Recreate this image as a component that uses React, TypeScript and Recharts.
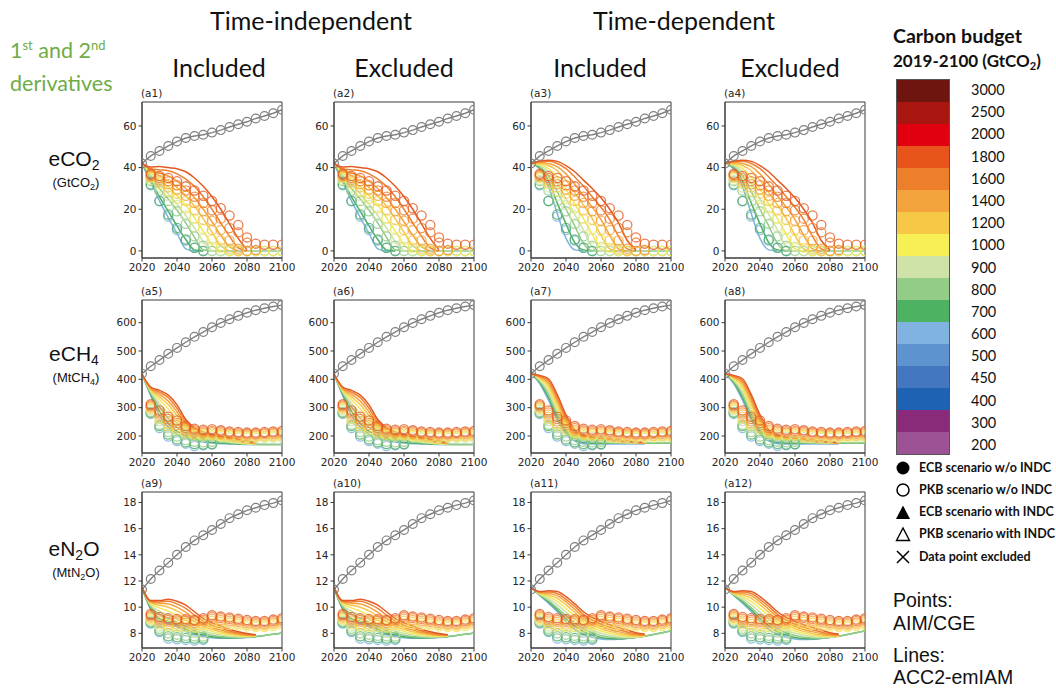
import React from "react";
import { ComposedChart, Line, XAxis, YAxis, ReferenceArea } from "recharts";

// years shared by every panel
const years = [2020, 2025, 2030, 2035, 2040, 2045, 2050, 2055, 2060, 2065, 2070, 2075, 2080, 2085, 2090, 2095, 2100];
const xTicks = [2020, 2040, 2060, 2080, 2100];

// carbon budgets that appear in the panels (GtCO2), high to low
const budgets = ["1800", "1600", "1400", "1200", "1000", "900", "800", "700", "600"];
const budgetColors = ["#e45a23", "#ee8030", "#f3a23f", "#f6c54c", "#f2e85a", "#cde2a8", "#92cb88", "#4daf61", "#7fb2df"];

// colour bar of the legend
const barLabels = ["3000", "2500", "2000", "1800", "1600", "1400", "1200", "1000", "900", "800", "700", "600", "500", "450", "400", "300", "200"];
const barColors = ["#6e1510", "#a8160f", "#e0000f", "#e8541c", "#ee7f2a", "#f3a33b", "#f7c845", "#f7ef56", "#cfe3a8", "#92cc86", "#4db363", "#80b3e0", "#5f93d0", "#4577c0", "#1e62b3", "#8a2a7a", "#9c5294"];

// ---- eCO2 (GtCO2) ----
const co2Base = [42, 45.6, 48, 50.4, 52.5, 54.2, 55.2, 55.8, 56.8, 58, 59.5, 60.8, 62, 63.6, 64.8, 66.1, 67.8];
const co2LinesTI = [
  [42, 40.3, 40.5, 40, 39.5, 38, 35, 31, 26, 20, 13, 6, 0.5],
  [42, 39.5, 39, 38.5, 37, 34.5, 31, 26, 20, 13.5, 7, 1.5, 0],
  [42, 39, 37.5, 36, 33.5, 30, 25.5, 20, 14, 7.5, 2, 0],
  [42, 38.5, 36, 33.5, 30.5, 26.5, 21.5, 15.5, 9, 2.5, 0],
  [42, 37.5, 34, 30.5, 26.5, 22, 16, 9.5, 3, 0],
  [42, 36.5, 32, 27.5, 22.5, 17, 11, 4.5, 0],
  [42, 35.5, 30, 25, 19.5, 13.5, 6.5, 0.5, 0, 0, 0, 0, 0, 0, 0, 0, 0],
  [42, 34, 26, 19, 12, 5.5, 0.5, 0],
  [42, 33, 24, 16, 8.5, 1, 0, 0],
];
const co2LinesTD = [
  [42, 43, 43.5, 43, 41, 38, 34, 30, 25.5, 20, 13.5, 5, 0.5],
  [42, 43, 43, 42, 39.5, 35.5, 31, 26, 21, 15, 7, 1, 0],
  [42, 42.5, 42, 40.5, 37, 32, 26.5, 21, 15, 7.5, 1, 0],
  [42, 42, 41, 38.5, 34, 28, 22, 15.5, 7.5, 1, 0],
  [42, 41.5, 39.5, 35.5, 29.5, 22.5, 15.5, 8, 1, 0],
  [42, 41, 38, 32.5, 25, 17.5, 10, 2, 0, 0],
  [42, 40.5, 36, 28.5, 20, 12, 3.5, 0, 0, 0, 0, 0, 0, 0, 0, 0, 0],
  [42, 40, 33.5, 23, 13, 4, 0.5, 0],
  [42, 39.5, 31, 18, 6, 0.5, 0],
];
const co2Points = [
  [null, 37, 36, 35, 33.5, 31, 29, 26.5, 24, 20.5, 17, 12.5, 6.5, 3.5, 3, 3, 3],
  [null, 36.5, 35, 33.5, 31.5, 29, 26, 23, 19.5, 15.5, 11, 9, 4, 0.5],
  [null, 36, 34, 32, 29.5, 26.5, 23, 19, 14.5, 10, 5, 1, 0],
  [null, 35.5, 33, 30.5, 27.5, 24, 19.5, 15, 10, 5, 1, 0],
  [null, 35, 32, 28.5, 25, 20.5, 15.5, 10.5, 5.5, 1.5, 0, 0, 0, 0, 0, 0, 0],
  [null, 34, 30.5, 26.5, 22, 17, 11.5, 6, 2, 0, 0, 0, 0, 0, 0, 0, 0],
  [null, 33.5, 29, 24, 19, 13, 7, 2.5, 0, 0, 0, 0, 0, 0, 0, 0, 0],
  [null, 32, 24, 17.5, 11, 5.5, 1.5, 0],
  [null, 31.5, 24, 16.5, 10, 5, 1.5, 0],
];

// ---- eCH4 (MtCH4) ----
const ch4Base = [420, 446, 468, 490, 511, 531, 550, 567, 584, 599, 612, 624, 635, 644, 651, 657, 662];
const ch4LinesTI = [
  [418, 373, 361, 344, 310, 258, 229, 214, 205, 199, 194, 188, 182, 178],
  [418, 370, 355, 335, 298, 250, 224, 210, 202, 196, 190, 185, 180, 176],
  [418, 367, 347, 323, 285, 243, 219, 206, 198, 192, 187, 182, 178, 175],
  [418, 364, 338, 310, 272, 236, 214, 202, 195, 189, 184, 180, 176, 173],
  [418, 360, 328, 296, 258, 228, 209, 198, 191, 186, 181, 177, 174, 172],
  [418, 356, 316, 280, 245, 219, 203, 193, 187, 182, 178, 175, 172, 171],
  [418, 352, 303, 263, 231, 210, 197, 188, 183, 179, 176, 174, 172, 171, 170, 170, 170],
  [418, 347, 287, 245, 216, 200, 190, 183, 178, 175, 173, 172, 171, 170, 170, 170, 170],
  [418, 342, 272, 232, 207, 193, 185, 179, 175, 173, 172, 171, 170, 170],
];
const ch4LinesTD = [
  [420, 414, 402, 346, 275, 222, 203, 196, 192, 189, 186, 183, 180, 177],
  [420, 411, 395, 336, 265, 217, 200, 194, 190, 187, 184, 181, 178, 176],
  [420, 408, 387, 325, 256, 212, 197, 191, 188, 185, 182, 179, 177, 175],
  [420, 405, 378, 313, 247, 207, 194, 189, 186, 183, 180, 178, 176, 174],
  [420, 401, 368, 300, 238, 202, 191, 186, 183, 181, 179, 177, 175, 174],
  [420, 397, 358, 288, 229, 197, 187, 183, 181, 179, 177, 176, 175, 174],
  [420, 393, 347, 277, 222, 191, 182, 179, 177, 176, 175, 175, 175, 175, 175, 175, 175],
  [420, 389, 336, 265, 215, 186, 177, 175, 174, 174, 174, 174, 174, 174, 174, 174, 174],
  [420, 385, 326, 255, 208, 182, 173, 172, 172, 172, 172, 172, 172, 172],
];
const ch4Points = [
  [null, 312, 290, 268, 255, 235, 226, 222, 224, 220, 216, 214, 212, 212, 214, 216, 218],
  [null, 308, 283, 260, 246, 228, 220, 217, 218, 215, 212, 210, 208, 208, 210, 212, 213],
  [null, 304, 276, 252, 238, 222, 214, 212, 213, 210, 207, 205, 204, 204, 206, 207, 208],
  [null, 300, 268, 244, 230, 216, 209, 207, 208, 205, 203, 201, 200, 200, 201, 202, 203],
  [null, 296, 260, 236, 222, 210, 204, 202, 203, 201, 199, 197, 196, 196, 197, 198, 199],
  [null, 292, 252, 228, 214, 203, 198, 197, 198, 196, 195, 194, 193, 193, 194, 195, 195],
  [null, 285, 240, 214, 198, 186, 180, 178, 180],
  [null, 282, 235, 205, 188, 178, 172, 170, 172],
  [null, 278, 228, 198, 182, 173, 165, 167, 170],
];

// ---- eN2O (MtN2O) ----
const n2oBase = [11.35, 12.15, 12.8, 13.4, 14.0, 14.6, 15.1, 15.5, 15.9, 16.35, 16.8, 17.1, 17.4, 17.6, 17.8, 17.95, 18.15];
const n2oLinesTI = [
  [11.5, 10.5, 10.5, 10.6, 10.45, 10.15, 9.65, 9.15, 8.8, 8.55, 8.3, 8.12, 7.98, 7.9],
  [11.5, 10.45, 10.4, 10.45, 10.25, 9.9, 9.4, 8.95, 8.62, 8.4, 8.18, 8.02, 7.92, 7.88],
  [11.5, 10.4, 10.3, 10.25, 10.0, 9.6, 9.15, 8.75, 8.45, 8.25, 8.07, 7.95, 7.87, 7.85],
  [11.5, 10.35, 10.15, 10.0, 9.72, 9.3, 8.9, 8.55, 8.3, 8.12, 7.98, 7.88, 7.83, 7.82],
  [11.5, 10.25, 9.95, 9.7, 9.4, 9.0, 8.65, 8.35, 8.15, 7.99, 7.88, 7.8, 7.78, 7.8],
  [11.5, 10.15, 9.7, 9.4, 9.1, 8.75, 8.42, 8.17, 8.0, 7.87, 7.79, 7.74, 7.74, 7.77],
  [11.5, 10.05, 9.45, 9.15, 8.85, 8.5, 8.22, 8.0, 7.86, 7.76, 7.71, 7.69, 7.71, 7.76, 7.84, 7.93, 8.02],
  [11.5, 9.9, 9.1, 8.9, 8.65, 8.3, 8.05, 7.86, 7.74, 7.67, 7.65, 7.66, 7.7, 7.76, 7.84, 7.93, 8.02],
  [11.5, 9.8, 8.95, 8.75, 8.5, 8.15, 7.92, 7.75, 7.66, 7.62, 7.62, 7.64, 7.68, 7.74],
];
const n2oLinesTD = [
  [11.5, 11.2, 11.25, 11.2, 10.8, 10.25, 9.65, 9.2, 8.9, 8.65, 8.45, 8.25, 8.05, 7.95],
  [11.5, 11.15, 11.15, 11.05, 10.6, 10.05, 9.45, 9.0, 8.7, 8.47, 8.28, 8.1, 7.95, 7.9],
  [11.5, 11.12, 11.05, 10.88, 10.4, 9.83, 9.25, 8.82, 8.52, 8.3, 8.13, 7.98, 7.87, 7.85],
  [11.5, 11.08, 10.92, 10.68, 10.17, 9.6, 9.05, 8.63, 8.35, 8.15, 7.99, 7.87, 7.8, 7.82],
  [11.5, 11.04, 10.8, 10.45, 9.9, 9.35, 8.83, 8.44, 8.18, 8.0, 7.86, 7.77, 7.75, 7.8],
  [11.5, 11.0, 10.65, 10.2, 9.62, 9.08, 8.6, 8.24, 8.0, 7.85, 7.74, 7.69, 7.7, 7.78],
  [11.5, 10.96, 10.5, 9.95, 9.35, 8.8, 8.35, 8.03, 7.83, 7.71, 7.64, 7.64, 7.7, 7.8, 7.92, 8.05, 8.18],
  [11.5, 10.92, 10.4, 9.8, 9.12, 8.55, 8.12, 7.85, 7.68, 7.6, 7.58, 7.62, 7.7, 7.8, 7.92, 8.05, 8.18],
  [11.5, 10.9, 10.3, 9.65, 8.9, 8.3, 7.92, 7.7, 7.57, 7.53, 7.55, 7.6, 7.68, 7.78],
];
const n2oPoints = [
  [null, 9.48, 9.25, 9.15, 9.1, 9.08, 9.02, 9.15, 9.38, 9.28, 9.22, 9.12, 9.02, 8.95, 8.95, 9.05, 9.15],
  [null, 9.38, 9.12, 9.02, 8.98, 8.96, 8.92, 9.04, 9.26, 9.16, 9.1, 9.0, 8.9, 8.84, 8.84, 8.94, 9.04],
  [null, 9.28, 8.98, 8.88, 8.84, 8.82, 8.78, 8.92, 9.12, 9.02, 8.96, 8.88, 8.78, 8.72, 8.72, 8.82, 8.92],
  [null, 9.18, 8.84, 8.72, 8.68, 8.66, 8.62, 8.76, 8.96, 8.88, 8.82, 8.74, 8.66, 8.6, 8.6, 8.7, 8.78],
  [null, 9.08, 8.68, 8.54, 8.5, 8.48, 8.44, 8.58, 8.78, 8.72, 8.66, 8.6, 8.52, 8.48, 8.48, 8.56, 8.64],
  [null, 8.98, 8.52, 8.3, 8.2, 8.12, 8.05, 8.0],
  [null, 8.9, 8.35, 8.0, 7.9, 7.82, 7.78, 7.75],
  [null, 8.82, 8.2, 7.78, 7.7, 7.64, 7.6, 7.6],
  [null, 8.75, 8.1, 7.6, 7.55, 7.5, 7.45, 7.5],
];

type Series = (number | null)[];

function buildRows(base: Series, lines: Series[], points: Series[]) {
  return years.map((year, i) => {
    const row: Record<string, number | null> = { year, base: base[i] ?? null };
    lines.forEach((s, k) => (row["l" + k] = s[i] ?? null));
    points.forEach((s, k) => (row["p" + k] = s[i] ?? null));
    return row;
  });
}

const gases = [
  { ti: buildRows(co2Base, co2LinesTI, co2Points), td: buildRows(co2Base, co2LinesTD, co2Points), domain: [-3.4, 71.5], ticks: [0, 20, 40, 60], top: 102, h: 156 },
  { ti: buildRows(ch4Base, ch4LinesTI, ch4Points), td: buildRows(ch4Base, ch4LinesTD, ch4Points), domain: [140, 680], ticks: [200, 300, 400, 500, 600], top: 300, h: 153 },
  { ti: buildRows(n2oBase, n2oLinesTI, n2oPoints), td: buildRows(n2oBase, n2oLinesTD, n2oPoints), domain: [6.88, 18.8], ticks: [8, 10, 12, 14, 16, 18], top: 492, h: 156 },
];
const colLefts = [142, 334, 531, 725];

const tickStyle = { fontSize: 10.5, fill: "#262626", fontFamily: "DejaVu Sans" };
const axisColor = "#3a3a3a";
const order = [8, 7, 6, 5, 4, 3, 2, 1, 0];

function Panel({ left, top, h, rows, domain, ticks, label }: any) {
  const yw = 40;
  return (
    <div style={{ position: "absolute", left: left - yw, top: top - 14 }}>
      <ComposedChart width={yw + 140 + 16} height={14 + h + 22} data={rows} margin={{ top: 14, right: 16, left: 0, bottom: 0 }}>
        <XAxis dataKey="year" type="number" domain={[2020, 2100]} ticks={xTicks} interval={0} height={22}
          tick={tickStyle} tickSize={3.5} tickMargin={2} tickLine={{ stroke: axisColor }} axisLine={{ stroke: axisColor }} allowDataOverflow />
        <YAxis type="number" domain={domain} ticks={ticks} interval={0} width={yw}
          tick={tickStyle} tickSize={3.5} tickMargin={2} tickLine={{ stroke: axisColor }} axisLine={{ stroke: axisColor }} allowDataOverflow />
        <ReferenceArea x1={2020} x2={2100} y1={domain[0]} y2={domain[1]} fill="none" stroke={axisColor} strokeWidth={1} />
        {order.map((k) => (
          <Line key={"l" + k} dataKey={"l" + k} type="monotone" stroke={budgetColors[k]} strokeWidth={1.5}
            dot={false} activeDot={false} isAnimationActive={false} />
        ))}
        {order.map((k) => (
          <Line key={"p" + k} dataKey={"p" + k} stroke="none" legendType="none"
            dot={{ r: 4.6, fill: "none", stroke: budgetColors[k], strokeWidth: 1.3, strokeOpacity: 0.8 }}
            activeDot={false} isAnimationActive={false} />
        ))}
        <Line dataKey="base" stroke="#808080" strokeWidth={1.4}
          dot={{ r: 4.4, fill: "none", stroke: "#808080", strokeWidth: 1.2 }} activeDot={false} isAnimationActive={false} />
      </ComposedChart>
      <div style={{ position: "absolute", left: yw - 1, top: -1, fontSize: 10.5, fontFamily: "DejaVu Sans", color: "#262626", lineHeight: "12px" }}>
        {label}
      </div>
    </div>
  );
}

const heading: React.CSSProperties = { position: "absolute", transform: "translate(-50%, -50%)", whiteSpace: "nowrap", fontFamily: "Lato", color: "#111" };

function Marker({ kind }: { kind: string }) {
  return (
    <svg width={16} height={16} style={{ position: "absolute", left: 895, top: -8 }}>
      {kind === "fc" && <circle cx={8} cy={8} r={6.5} fill="#000" />}
      {kind === "oc" && <circle cx={8} cy={8} r={6} fill="none" stroke="#000" strokeWidth={1.5} />}
      {kind === "ft" && <polygon points="1,15 8,1.5 15,15" fill="#000" />}
      {kind === "ot" && <polygon points="1.5,14.5 8,2 14.5,14.5" fill="none" stroke="#000" strokeWidth={1.4} />}
      {kind === "x" && <path d="M2,2 L14,14 M14,2 L2,14" stroke="#000" strokeWidth={1.5} />}
    </svg>
  );
}

const legendItems = [
  { kind: "fc", text: "ECB scenario w/o INDC", y: 468 },
  { kind: "oc", text: "PKB scenario w/o INDC", y: 490 },
  { kind: "ft", text: "ECB scenario with INDC", y: 512 },
  { kind: "ot", text: "PKB scenario with INDC", y: 534 },
  { kind: "x", text: "Data point excluded", y: 557 },
];

export default function App() {
  const labels = ["a1", "a2", "a3", "a4", "a5", "a6", "a7", "a8", "a9", "a10", "a11", "a12"];
  const bandH = (453 - 79) / barColors.length;
  return (
    <div style={{ position: "absolute", left: 0, top: 0, width: 1056, height: 690, background: "#fff", overflow: "hidden" }}>
      {gases.map((g, r) =>
        colLefts.map((left, c) => (
          <Panel key={r + "-" + c} left={left} top={g.top} h={g.h} rows={c < 2 ? g.ti : g.td}
            domain={g.domain} ticks={g.ticks} label={"(" + labels[r * 4 + c] + ")"} />
        ))
      )}

      <div style={{ ...heading, left: 311, top: 20, fontSize: 25 }}>Time-independent</div>
      <div style={{ ...heading, left: 684, top: 20, fontSize: 25 }}>Time-dependent</div>
      <div style={{ ...heading, left: 219, top: 67, fontSize: 25 }}>Included</div>
      <div style={{ ...heading, left: 404, top: 67, fontSize: 25 }}>Excluded</div>
      <div style={{ ...heading, left: 600, top: 67, fontSize: 25 }}>Included</div>
      <div style={{ ...heading, left: 790, top: 67, fontSize: 25 }}>Excluded</div>

      <div style={{ position: "absolute", left: 10, top: 29, fontFamily: "Lato", fontSize: 21.5, color: "#6fac46", lineHeight: "33px", whiteSpace: "nowrap" }}>
        1<sup style={{ fontSize: 13 }}>st</sup> and 2<sup style={{ fontSize: 13 }}>nd</sup>
        <br />derivatives
      </div>

      {[
        { y: 160, main: "eCO", sub: "2", unit: "(GtCO", usub: "2" },
        { y: 355, main: "eCH", sub: "4", unit: "(MtCH", usub: "4" },
        { y: 550, main: "eN", sub: "2", unit: "(MtN", usub: "2", tail: "O" },
      ].map((t) => (
        <React.Fragment key={t.y}>
          <div style={{ ...heading, left: 74, top: t.y, fontSize: 21, fontFamily: "Liberation Sans" }}>
            {t.main}<span style={{ fontSize: 14, verticalAlign: "-4px" }}>{t.sub}</span>{t.tail}
          </div>
          <div style={{ ...heading, left: 76, top: t.y + 23, fontSize: 13, fontFamily: "Liberation Sans" }}>
            {t.unit}<span style={{ fontSize: 9, verticalAlign: "-3px" }}>{t.usub}</span>{t.tail})
          </div>
        </React.Fragment>
      ))}

      <div style={{ position: "absolute", left: 893, top: 24, fontFamily: "Lato", fontWeight: 700, fontSize: 19.5, lineHeight: "24px", color: "#111", whiteSpace: "nowrap" }}>
        Carbon budget
      </div>
      <div style={{ position: "absolute", left: 893, top: 50, fontFamily: "Lato", fontWeight: 700, fontSize: 17, lineHeight: "22px", color: "#111", whiteSpace: "nowrap" }}>
        2019-2100 (GtCO<span style={{ fontSize: 11, verticalAlign: "-3px" }}>2</span>)
      </div>
      <div style={{ position: "absolute", left: 896, top: 79, width: 54, border: "1px solid #555", boxSizing: "border-box" }}>
        {barColors.map((col) => (
          <div key={col} style={{ height: bandH, background: col }} />
        ))}
      </div>
      {barLabels.map((lab, i) => (
        <div key={lab} style={{ position: "absolute", left: 971, top: 90 + i * ((445 - 90) / 16) - 9, fontFamily: "Lato", fontSize: 14.5, lineHeight: "18px", color: "#111" }}>
          {lab}
        </div>
      ))}

      {legendItems.map((it) => (
        <div key={it.text} style={{ position: "absolute", left: 0, top: it.y }}>
          <Marker kind={it.kind} />
          <div style={{ position: "absolute", left: 919, top: -8, fontFamily: "Lato", fontWeight: 700, fontSize: 12.5, lineHeight: "16px", whiteSpace: "nowrap", color: "#111" }}>
            {it.text}
          </div>
        </div>
      ))}

      <div style={{ position: "absolute", left: 893, top: 589, fontFamily: "Liberation Sans", fontSize: 19.5, lineHeight: "23px", color: "#111", whiteSpace: "nowrap" }}>
        Points:<br />AIM/CGE
      </div>
      <div style={{ position: "absolute", left: 893, top: 644, fontFamily: "Liberation Sans", fontSize: 19.5, lineHeight: "22px", color: "#111", whiteSpace: "nowrap" }}>
        Lines:<br />ACC2-emIAM
      </div>
    </div>
  );
}
